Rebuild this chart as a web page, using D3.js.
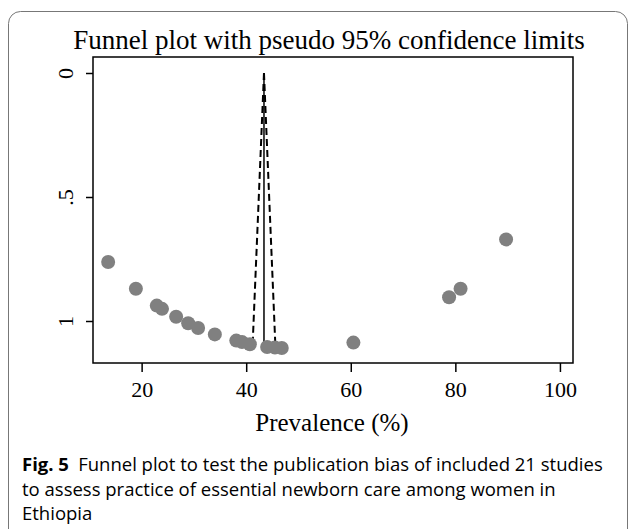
<!DOCTYPE html>
<html lang="en">
<head>
  <meta charset="UTF-8">
  <title>Funnel plot - Fig. 5</title>
  <script src="https://d3js.org/d3.v7.min.js"></script>
  <style>
    body { margin: 0; background: #fff; }
    svg text { fill: #000; }
  </style>
</head>
<body>
  <div id="chart"></div>
  <script>
    // prevalence (%) and standard error of each study
    const prevalence = [13.6, 18.9, 22.9, 23.9, 26.6, 28.9, 30.8, 34.0, 38.1, 39.2, 40.7, 44.0, 45.5, 46.8, 60.5, 78.8, 81.0, 89.7];
    const stdError   = [0.762, 0.870, 0.938, 0.951, 0.983, 1.009, 1.028, 1.054, 1.079, 1.085, 1.094, 1.105, 1.107, 1.109, 1.087, 0.904, 0.870, 0.671];

    // pooled estimate line and pseudo 95% limits (end points)
    const pooledLine = [[43.4, 0], [43.4, 1.11]];
    const lowerLimit = [[43.4, 0], [41.2, 1.11]];
    const upperLimit = [[43.4, 0], [45.6, 1.11]];

    const xTicks = [20, 40, 60, 80, 100];
    const yTicks = [0, 0.5, 1];
    const yTickLabels = ["0", ".5", "1"];

    const width = 630, height = 529;
    const plot = { left: 93, right: 573, top: 57, bottom: 363 };

    const svg = d3.select("#chart").append("svg")
      .attr("width", width)
      .attr("height", height);

    // card border
    svg.append("rect")
      .attr("x", 8.5).attr("y", 11.5)
      .attr("width", 619).attr("height", 540)
      .attr("rx", 12)
      .attr("fill", "none")
      .attr("stroke", "#777")
      .attr("stroke-width", 1);

    const x = d3.scaleLinear().domain([10.7, 102.5]).range([plot.left, plot.right]);
    const y = d3.scaleLinear().domain([0, 1]).range([73, 321]);

    const serif = "'Liberation Serif', 'Times New Roman', serif";

    svg.append("text")
      .attr("x", 329).attr("y", 49)
      .attr("text-anchor", "middle")
      .style("font-family", serif)
      .style("font-size", "27px")
      .text("Funnel plot with pseudo 95% confidence limits");

    // plot region frame
    svg.append("rect")
      .attr("x", plot.left).attr("y", plot.top)
      .attr("width", plot.right - plot.left)
      .attr("height", plot.bottom - plot.top)
      .attr("fill", "none")
      .attr("stroke", "#000")
      .attr("stroke-width", 1.5);

    // x axis
    const xAxis = svg.append("g")
      .attr("transform", `translate(0,${plot.bottom})`)
      .call(d3.axisBottom(x).tickValues(xTicks).tickSize(9).tickPadding(9).tickFormat(d3.format("d")));
    xAxis.select(".domain").remove();
    xAxis.selectAll("line").attr("stroke-width", 1.5);
    xAxis.selectAll("text")
      .style("font-family", serif)
      .style("font-size", "22px");

    // y axis
    const yAxis = svg.append("g")
      .attr("transform", `translate(${plot.left},0)`)
      .call(d3.axisLeft(y).tickValues(yTicks).tickSize(7).tickFormat((d, i) => yTickLabels[i]));
    yAxis.select(".domain").remove();
    yAxis.selectAll("line").attr("stroke-width", 1.5);
    yAxis.selectAll("text")
      .attr("x", 0).attr("y", 0).attr("dy", null)
      .attr("text-anchor", "middle")
      .attr("transform", "translate(-28,0) rotate(-90)")
      .attr("dominant-baseline", "central")
      .style("font-family", serif)
      .style("font-size", "22px");

    svg.append("text")
      .attr("x", 332).attr("y", 431)
      .attr("text-anchor", "middle")
      .style("font-family", serif)
      .style("font-size", "25px")
      .text("Prevalence (%)");

    // funnel lines
    const line = d3.line().x(d => x(d[0])).y(d => y(d[1]));
    [lowerLimit, upperLimit].forEach(pts => {
      svg.append("path")
        .attr("d", line(pts))
        .attr("fill", "none")
        .attr("stroke", "#000")
        .attr("stroke-width", 2)
        .attr("stroke-dasharray", "7,4");
    });
    svg.append("path")
      .attr("d", line(pooledLine))
      .attr("fill", "none")
      .attr("stroke", "#000")
      .attr("stroke-width", 1.5);

    // studies
    svg.selectAll("circle.study")
      .data(prevalence.map((p, i) => [p, stdError[i]]))
      .join("circle")
      .attr("class", "study")
      .attr("cx", d => x(d[0]))
      .attr("cy", d => y(d[1]))
      .attr("r", 7)
      .attr("fill", "#808080");

    // caption
    const sans = "'Open Sans', 'Noto Sans', sans-serif";
    const cap = svg.append("g")
      .style("font-family", sans)
      .style("font-size", "18.5px");
    const l1 = cap.append("text").attr("x", 22).attr("y", 471);
    l1.append("tspan").style("font-weight", "bold").text("Fig. 5");
    l1.append("tspan").text("\u2002Funnel plot to test the publication bias of included 21 studies");
    cap.append("text").attr("x", 22).attr("y", 496)
      .text("to assess practice of essential newborn care among women in");
    cap.append("text").attr("x", 22).attr("y", 520)
      .text("Ethiopia");
  </script>
</body>
</html>
